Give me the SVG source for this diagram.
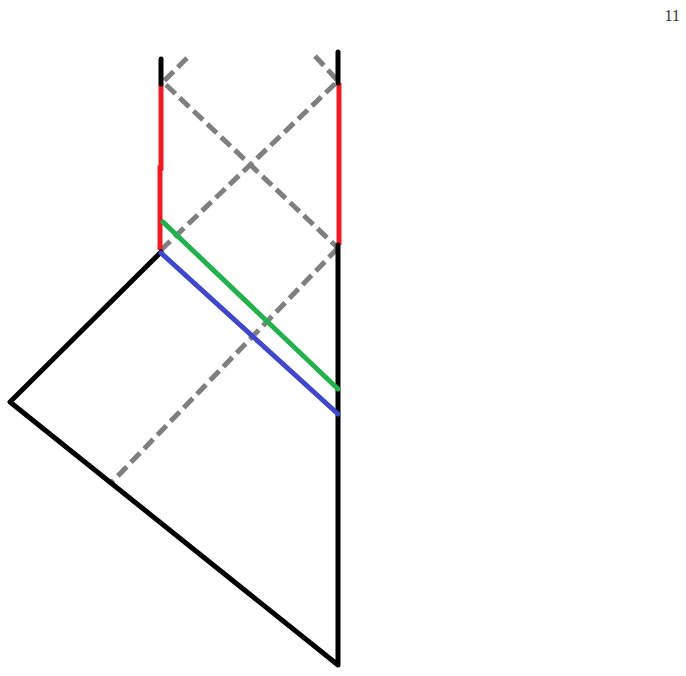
<svg xmlns="http://www.w3.org/2000/svg" width="686" height="676" viewBox="0 0 686 676">
<style>
.k{stroke:#000;stroke-width:5;fill:none;stroke-linecap:round;stroke-linejoin:round}
.r{stroke:#ed1c24;stroke-width:5;fill:none}
.g{stroke:#7f7f7f;stroke-width:5;fill:none;stroke-dasharray:13 6}
.gr{stroke:#22b14c;stroke-width:5;fill:none;stroke-linecap:round}
.b{stroke:#3f48cc;stroke-width:5;fill:none;stroke-linecap:round}
</style>
<rect width="686" height="676" fill="#fff"/>
<text x="680" y="21" font-family="Liberation Serif, serif" font-size="16" fill="#333" text-anchor="end">11</text>
<g id="connectors">
<g id="gray">
<path class="g" d="M187,58 L163,82 L338,248"/>
<path class="g" d="M315,56 L338,81 L161,250"/>
<path class="g" d="M338,248 L111,483"/>
</g>
<g id="red">
<path class="r" d="M161,84 L161,168 L160,168 L160,250"/>
<path class="r" d="M339,83 L339,245"/>
</g>
<g id="black">
<path class="k" d="M161,59 L161,84"/>
<path class="k" d="M338,52 L338,83"/>
<path class="k" d="M338,245 L338,665 L10,402 L161,252"/>
</g>
<path id="green" class="gr" d="M163,222 L338,389"/>
<path id="blue" class="b" d="M161,253 L338,414"/>
</g>
</svg>
